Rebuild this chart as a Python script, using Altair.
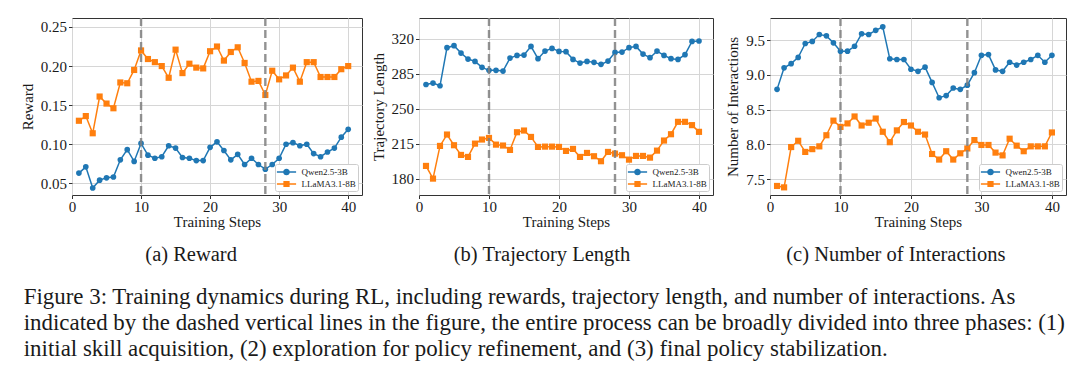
import altair as alt
import pandas as pd

steps = list(range(1, 41))
models = ["Qwen2.5-3B", "LLaMA3.1-8B"]
colors = ["#1f77b4", "#ff7f0e"]
phase_steps = [10, 28]

reward_qwen = [0.063, 0.071, 0.044, 0.054, 0.057, 0.058, 0.080, 0.093, 0.078, 0.101,
               0.086, 0.082, 0.084, 0.098, 0.095, 0.083, 0.082, 0.079, 0.079, 0.096,
               0.103, 0.092, 0.080, 0.087, 0.074, 0.082, 0.074, 0.068, 0.074, 0.082,
               0.100, 0.102, 0.098, 0.100, 0.088, 0.084, 0.090, 0.095, 0.109, 0.119]
reward_llama = [0.130, 0.136, 0.114, 0.161, 0.152, 0.146, 0.179, 0.178, 0.195, 0.220,
                0.209, 0.205, 0.200, 0.185, 0.221, 0.191, 0.203, 0.198, 0.197, 0.219,
                0.225, 0.207, 0.218, 0.224, 0.204, 0.180, 0.181, 0.163, 0.194, 0.183,
                0.188, 0.198, 0.180, 0.205, 0.205, 0.186, 0.186, 0.186, 0.196, 0.200]

traj_qwen = [274.2, 275.6, 272.9, 311.0, 313.0, 305.6, 299.6, 297.3, 291.3, 288.3,
             288.3, 287.6, 300.6, 303.3, 303.6, 312.3, 300.0, 307.6, 310.3, 307.3,
             307.0, 299.3, 295.6, 297.3, 296.3, 294.3, 297.6, 306.3, 306.6, 311.0,
             312.3, 304.6, 301.0, 307.6, 303.3, 300.0, 299.3, 304.0, 317.3, 317.7]
traj_llama = [192.7, 180.0, 212.7, 224.1, 213.4, 203.7, 201.7, 215.0, 219.1, 220.7,
              214.0, 213.1, 208.7, 226.4, 228.1, 221.7, 211.7, 212.0, 212.0, 211.7,
              207.7, 209.7, 201.7, 205.7, 202.4, 197.4, 206.7, 205.0, 203.4, 199.0,
              202.7, 202.7, 201.0, 208.0, 218.1, 224.4, 236.8, 236.8, 233.5, 226.8]

inter_qwen = [8.79, 9.10, 9.16, 9.25, 9.45, 9.48, 9.58, 9.56, 9.46, 9.34,
              9.34, 9.41, 9.59, 9.58, 9.64, 9.69, 9.23, 9.22, 9.22, 9.08,
              9.05, 9.11, 8.89, 8.67, 8.70, 8.81, 8.79, 8.85, 9.03, 9.28,
              9.29, 9.07, 9.05, 9.18, 9.14, 9.18, 9.22, 9.28, 9.18, 9.28]
inter_llama = [7.40, 7.38, 7.96, 8.05, 7.89, 7.93, 7.97, 8.13, 8.34, 8.25,
               8.30, 8.40, 8.27, 8.31, 8.37, 8.18, 8.03, 8.20, 8.32, 8.27,
               8.18, 8.14, 7.86, 7.78, 7.90, 7.78, 7.87, 7.94, 8.06, 7.99,
               7.99, 7.88, 7.84, 8.08, 7.98, 7.90, 7.97, 7.97, 7.97, 8.17]

caption_lines = [
    "Figure 3: Training dynamics during RL, including rewards, trajectory length, and number of interactions.  As",
    "indicated by the dashed vertical lines in the figure, the entire process can be broadly divided into three phases: (1)",
    "initial skill acquisition, (2) exploration for policy refinement, and (3) final policy stabilization.",
]

FONT = "Liberation Serif"
TXT = "#1a1a1a"

# legend symbols: a short line with the marker in the middle (drawn wider than the
# nominal symbol box so that the rows stay compact)
SYM_CIRCLE = ("M-1.6,-0.125L-0.55,-0.125L-0.55,0.125L-1.6,0.125Z "
              "M0.55,-0.125L1.6,-0.125L1.6,0.125L0.55,0.125Z "
              "M-0.56,0A0.56,0.56 0 1,0 0.56,0A0.56,0.56 0 1,0 -0.56,0Z")
SYM_SQUARE = ("M-1.6,-0.125L-0.5,-0.125L-0.5,0.125L-1.6,0.125Z "
              "M0.5,-0.125L1.6,-0.125L1.6,0.125L0.5,0.125Z "
              "M-0.52,-0.52L0.52,-0.52L0.52,0.52L-0.52,0.52Z")

H = 177


def long_df(q, l):
    return pd.DataFrame({
        "step": steps + steps,
        "value": list(q) + list(l),
        "model": [models[0]] * len(steps) + [models[1]] * len(steps),
    })


def panel(q, l, y_domain, y_ticks, y_fmt, y_title, x_ticks, width, subcap):
    df = long_df(q, l)
    base = alt.Chart(df)
    x = alt.X("step:Q", scale=alt.Scale(domain=[0, 42], nice=False, zero=False),
              axis=alt.Axis(values=x_ticks, title="Training Steps", format="d",
                            labelPadding=1, titlePadding=0))
    y = alt.Y("value:Q", scale=alt.Scale(domain=y_domain, nice=False, zero=False),
              axis=alt.Axis(values=y_ticks, format=y_fmt, title=y_title))
    layers = []
    shapes = ["circle", "square"]
    sizes = [32, 38]
    for m, c, s, sz in zip(models, colors, shapes, sizes):
        sub = base.transform_filter(alt.datum.model == m)
        layers.append(sub.mark_line(color=c, strokeWidth=1.5).encode(x=x, y=y))
        layers.append(sub.mark_point(filled=True, shape=s, size=sz, color=c, opacity=1)
                      .encode(x=x, y=y))
    leg = alt.Legend(title=None, orient="none", legendX=width - 87, legendY=H - 31,
                     labelFont=FONT, labelFontSize=9, labelColor=TXT,
                     symbolSize=144, symbolStrokeWidth=0, symbolOpacity=1,
                     symbolOffset=3.5, labelOffset=9,
                     fillColor="white", strokeColor="#cccccc", padding=2,
                     cornerRadius=2, rowPadding=1)
    legend_layer = base.transform_filter("false").mark_point(filled=True).encode(
        x=x, y=y,
        color=alt.Color("model:N", scale=alt.Scale(domain=models, range=colors), legend=leg),
        shape=alt.Shape("model:N", scale=alt.Scale(domain=models, range=[SYM_CIRCLE, SYM_SQUARE]),
                        legend=leg),
    )
    rules = alt.Chart(pd.DataFrame({"step": phase_steps})).mark_rule(
        color="#7f7f7f", strokeDash=[8, 4], strokeWidth=2.4, opacity=0.85
    ).encode(x=alt.X("step:Q"))
    return alt.layer(*layers, rules, legend_layer).properties(
        width=width, height=H,
        title=alt.TitleParams(subcap, orient="bottom", frame="bounds", anchor="middle",
                              font=FONT, fontSize=20.5, fontWeight="normal", color=TXT, offset=15),
    )


pa = panel(reward_qwen, reward_llama, [0.035, 0.2615], [0.05, 0.10, 0.15, 0.20, 0.25], ".2f",
           "Reward", [0, 5, 10, 15, 20, 25, 30, 35, 40], 290, "(a) Reward")
pb = panel(traj_qwen, traj_llama, [163.6, 340.7], [180, 215, 250, 285, 320], "d",
           "Trajectory Length", [0, 10, 20, 30, 40], 294, "(b) Trajectory Length")
pc = panel(inter_qwen, inter_llama, [7.27, 9.817], [7.5, 8.0, 8.5, 9.0, 9.5], ".1f",
           "Number of Interactions", [0, 5, 10, 15, 20, 25, 30, 35, 40], 296,
           "(c) Number of Interactions")

chart = alt.hconcat(pa, pb, pc, spacing=57, bounds="flush").resolve_scale(
    color="independent", shape="independent"
).resolve_legend(color="independent", shape="independent").properties(
    title=alt.TitleParams(caption_lines, orient="bottom", anchor="start", frame="bounds",
                          font=FONT, fontSize=22.9, fontWeight="normal", color=TXT,
                          lineHeight=26, offset=20, dx=4),
    padding={"left": 11, "top": 8, "right": 5, "bottom": 5},
).configure_view(stroke="#333333", strokeWidth=1).configure_axis(
    labelFont=FONT, labelFontSize=15, labelColor=TXT, labelFlush=False,
    titleFont=FONT, titleFontSize=15, titleFontWeight="normal", titleColor=TXT,
    grid=True, gridColor="#d6d6d6", gridWidth=1, domain=False,
    tickColor="#333333", tickSize=3.5, labelPadding=2, titlePadding=5,
)

chart.save("out.html", embed_options={"renderer": "svg", "actions": False})
